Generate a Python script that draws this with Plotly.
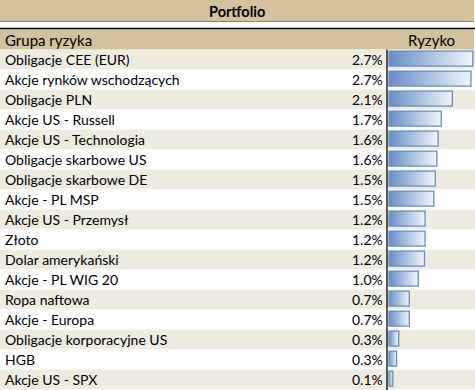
import plotly.graph_objects as go

# ---- data ----
categories = [
    "Obligacje CEE (EUR)", "Akcje rynków wschodzących", "Obligacje PLN",
    "Akcje US - Russell", "Akcje US - Technologia", "Obligacje skarbowe US",
    "Obligacje skarbowe DE", "Akcje - PL MSP", "Akcje US - Przemysł", "Złoto",
    "Dolar amerykański", "Akcje - PL WIG 20", "Ropa naftowa", "Akcje - Europa",
    "Obligacje korporacyjne US", "HGB", "Akcje US - SPX",
]
risk = [2.72, 2.66, 2.06, 1.70, 1.60, 1.56, 1.51, 1.46, 1.18, 1.18, 1.16,
        0.96, 0.67, 0.67, 0.33, 0.26, 0.14]
title = "Portfolio"
col_headers = ["Grupa ryzyka", "Ryzyko"]

# ---- styling ----
W, H = 475, 390
TAN = "#D4C29C"
BEIGE = "#EEEBE1"
BAR = "#638EC6"
FONT = "Lato"

def px_x(x):
    return x / W

def px_y(y):
    return 1 - y / H

n = len(categories)
row_top, row_h = 49.5, 20.0
rows_bottom = row_top + n * row_h

fig = go.Figure()

# gradient data bars
for i, v in enumerate(risk):
    y0, y1 = i - 0.42, i + 0.33
    fig.add_trace(go.Scatter(
        x=[0, v, v, 0, 0], y=[y0, y0, y1, y1, y0],
        mode="lines", fill="toself",
        line=dict(color=BAR, width=1.3),
        fillgradient=dict(type="horizontal",
                          colorscale=[[0, BAR], [1, "#F2F5FB"]]),
        hoverinfo="skip", showlegend=False,
    ))

shapes = []
# title bar
shapes.append(dict(type="rect", xref="paper", yref="paper", x0=0, x1=px_x(474),
                   y0=px_y(21), y1=px_y(0), fillcolor=TAN, line_width=0, layer="below"))
shapes.append(dict(type="line", xref="paper", yref="paper", x0=0, x1=px_x(474),
                   y0=px_y(21.5), y1=px_y(21.5), line=dict(color="#8a8170", width=1)))
# black line above header
shapes.append(dict(type="line", xref="paper", yref="paper", x0=0, x1=1,
                   y0=px_y(28.5), y1=px_y(28.5), line=dict(color="black", width=1.5)))
# header band
shapes.append(dict(type="rect", xref="paper", yref="paper", x0=0, x1=px_x(474),
                   y0=px_y(row_top), y1=px_y(29.2), fillcolor=TAN, line_width=0, layer="below"))
# alternating rows
for i in range(n):
    shapes.append(dict(type="rect", xref="paper", yref="y", x0=0, x1=1,
                       y0=i - 0.5, y1=i + 0.5,
                       fillcolor=BEIGE if i % 2 == 0 else "white",
                       line_width=0, layer="below"))
# vertical separator
shapes.append(dict(type="line", xref="paper", yref="paper", x0=px_x(387), x1=px_x(387),
                   y0=0, y1=px_y(row_top), line=dict(color="black", width=1.3)))

annotations = [
    dict(text=f"<b>{title}</b>", xref="paper", yref="paper", x=px_x(237), y=px_y(11),
         xanchor="center", yanchor="middle", showarrow=False,
         font=dict(family=FONT, size=14.5, color="black")),
    dict(text=col_headers[0], xref="paper", yref="paper", x=px_x(3), y=px_y(40.5),
         xanchor="left", yanchor="middle", showarrow=False,
         font=dict(family=FONT, size=15, color="black")),
    dict(text=col_headers[1], xref="paper", yref="paper", x=px_x(431), y=px_y(40.5),
         xanchor="center", yanchor="middle", showarrow=False,
         font=dict(family=FONT, size=15, color="black")),
]
for i, (c, v) in enumerate(zip(categories, risk)):
    annotations.append(dict(text=c, xref="paper", yref="y", x=px_x(3), y=i,
                            xanchor="left", yanchor="middle", showarrow=False,
                            font=dict(family=FONT, size=14, color="black")))
    annotations.append(dict(text=f"{v:.1f}%", xref="paper", yref="y", x=px_x(385), y=i,
                            xanchor="right", yanchor="middle", showarrow=False,
                            font=dict(family=FONT, size=14, color="black")))

fig.update_layout(
    width=W, height=H, margin=dict(l=0, r=0, t=0, b=0),
    paper_bgcolor="white", plot_bgcolor="rgba(0,0,0,0)",
    xaxis=dict(domain=[px_x(388.5), 1], range=[0, (W - 388.5) / 31.0],
               visible=False, fixedrange=True),
    yaxis=dict(domain=[px_y(rows_bottom), px_y(row_top)], range=[n - 0.5, -0.5],
               visible=False, fixedrange=True),
    shapes=shapes, annotations=annotations, showlegend=False,
)

fig.write_html("out.html", config={"displayModeBar": False},
               post_script="document.body.style.margin='0px';"
                           "document.body.style.overflow='hidden';")
